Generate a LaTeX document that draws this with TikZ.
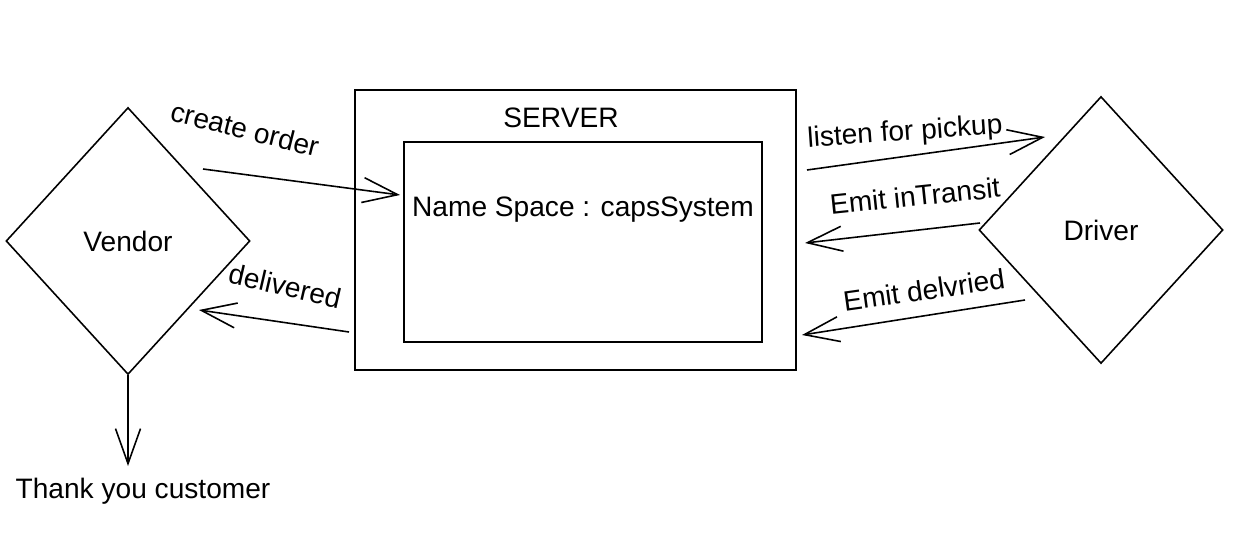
\documentclass[tikz,border=0pt]{standalone}
\usepackage{fontspec}
\setmainfont{Liberation Sans}
\usetikzlibrary{shapes.geometric,arrows.meta}

\begin{document}
\begin{tikzpicture}[x=0.02cm, y=-0.02cm,
  actor/.style={diamond, draw, line width=0.9pt, minimum width=4.88cm, minimum height=5.34cm, inner sep=0pt, font=\fontsize{16}{19}\selectfont},
  box/.style={rectangle, draw, line width=0.9pt, inner sep=0pt},
  txt/.style={font=\fontsize{16}{19}\selectfont, inner sep=0pt},
  msg/.style={line width=0.9pt, -{Straight Barb[length=7mm,width=5mm]}}]
  \useasboundingbox (0,0) rectangle (1237,533);
  \node[actor] (vendor) at (128,241) {Vendor};
  \node[actor] (driver) at (1101,230) {Driver};
  \node[box, minimum width=8.82cm, minimum height=5.6cm] (server) at (575.5,230) {};
  \node[box, minimum width=7.16cm, minimum height=4cm] (ns) at (583,242) {};
  \node[txt] (srvlbl) at (561,118) {SERVER};
  \node[txt] (nslbl) at (583,210) {Name Space : capsSystem};
  \node[txt, rotate=-14] (lcreate) at (245,129) {create order};
  \node[txt, rotate=-13] (ldeliv) at (285,286) {delivered};
  \node[txt, rotate=4] (llisten) at (905,133) {listen for pickup};
  \node[txt, rotate=6] (ltransit) at (915,196) {Emit inTransit};
  \node[txt, rotate=8] (ldelv) at (924,290) {Emit delvried};
  \node[txt] (lthanks) at (143,491) {Thank you customer};
  \coordinate (c1) at (203,169);
  \coordinate (c2) at (400,195);
  \coordinate (c3) at (349,332);
  \coordinate (c4) at (199,310);
  \coordinate (c5) at (807,170);
  \coordinate (c6) at (1045,137);
  \coordinate (c7) at (980,223);
  \coordinate (c8) at (805,243);
  \coordinate (c9) at (1025,300);
  \coordinate (c10) at (802,335);
  \coordinate (c11) at (128,466);
  \draw[msg] (c1) -- (c2);
  \draw[msg] (c3) -- (c4);
  \draw[msg] (c5) -- (c6);
  \draw[msg] (c7) -- (c8);
  \draw[msg] (c9) -- (c10);
  \draw[msg] (vendor.south) -- (c11);
\end{tikzpicture}
\end{document}
